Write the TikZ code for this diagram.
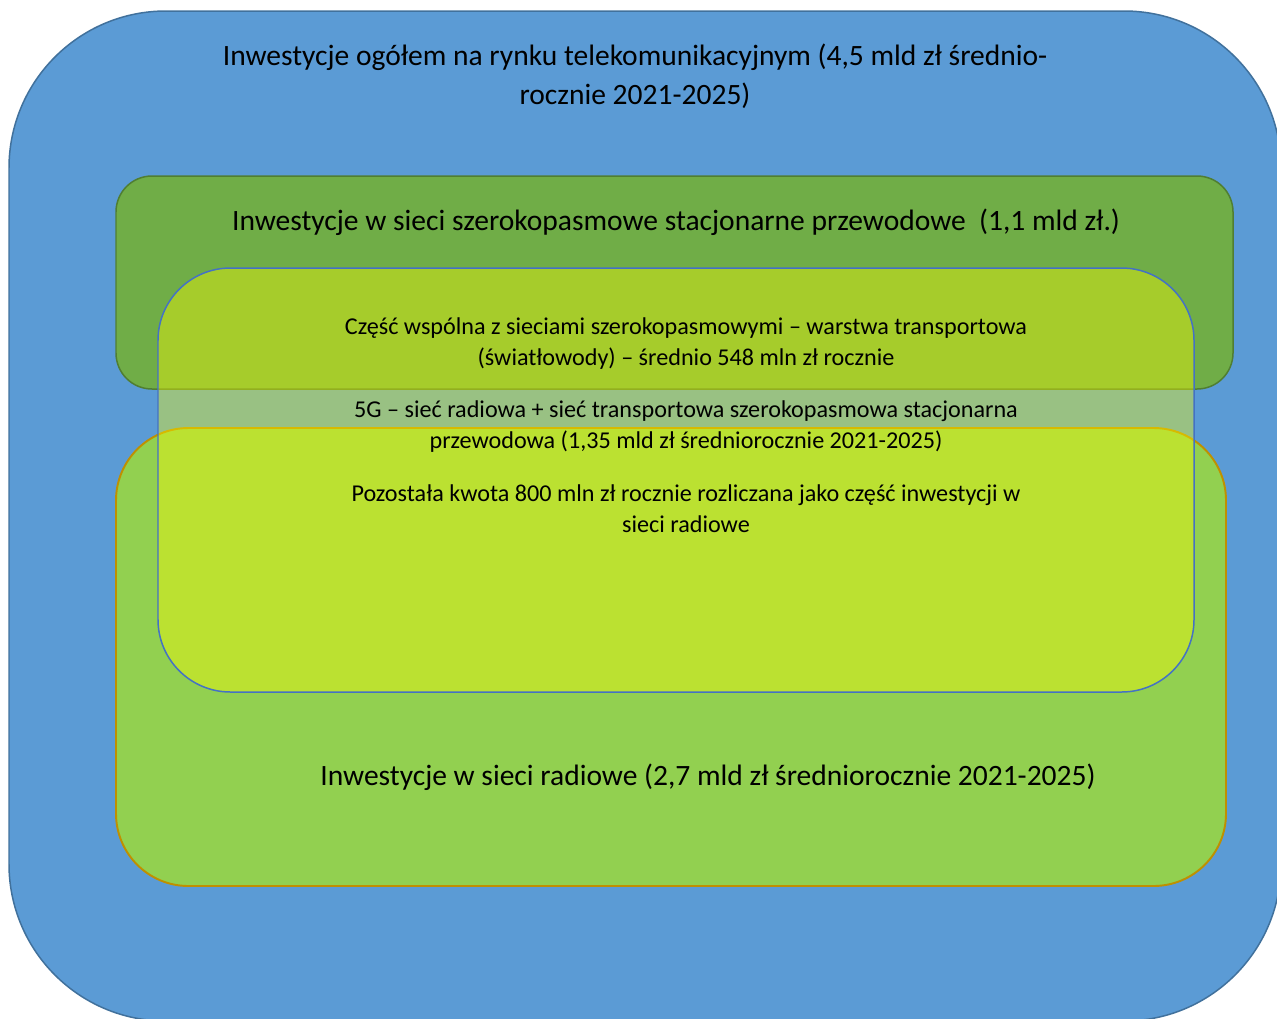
\documentclass[tikz,border=0pt]{standalone}
\usepackage{fontspec}
\setmainfont{Carlito}
\definecolor{TotalBlue}{HTML}{5B9BD5}
\definecolor{TotalEdge}{HTML}{41719C}
\definecolor{FixedGreen}{HTML}{70AD47}
\definecolor{FixedEdge}{HTML}{507E32}
\definecolor{RadioGreen}{HTML}{92D050}
\definecolor{RadioEdge}{HTML}{BF9000}
\definecolor{FiveGYellow}{HTML}{FFFF00}
\definecolor{FiveGEdge}{HTML}{4472C4}

\begin{document}
\begin{tikzpicture}[
  x=0.02cm,
  y=-0.02cm,
  set/.style={line width=0.85pt},
  total/.style={set,fill=TotalBlue,draw=TotalEdge,rounded corners=3.14cm},
  fixed/.style={set,fill=FixedGreen,draw=FixedEdge,rounded corners=0.72cm},
  radio/.style={set,fill=RadioGreen,draw=RadioEdge,line width=1.1pt,rounded corners=1.45cm},
  fiveg/.style={set,fill=FiveGYellow,fill opacity=0.38,draw=FiveGEdge,draw opacity=1,
    rounded corners=1.45cm},
  big/.style={font=\fontsize{16.8}{22.1}\selectfont,align=center,inner sep=0pt},
  small/.style={font=\fontsize{13.75}{17.3}\selectfont,align=center,inner sep=0pt}
]
  \useasboundingbox (0,0) rectangle (1277,1018);
  \clip (0,0) rectangle (1277,1018);

  % the four investment sets, outermost first
  \path[total] (9,11) rectangle (1281,1021);
  \path[fixed] (116,176) rectangle (1233,389);
  \path[radio] (116,428) rectangle (1226,886);
  \path[fiveg] (158,268) rectangle (1194,692);

  \node[big] (totalname) at (635,76)
    {Inwestycje ogółem na rynku telekomunikacyjnym (4,5 mld zł średnio-\\rocznie 2021-2025)};
  \node[big] (fixedname) at (676,222)
    {Inwestycje w sieci szerokopasmowe stacjonarne przewodowe\ \ (1,1 mld zł.)};
  \node[small] (shared) at (686,343.5)
    {Część wspólna z sieciami szerokopasmowymi – warstwa transportowa\\(światłowody) – średnio 548 mln zł rocznie};
  \node[small] (fivegname) at (686,426.5)
    {5G – sieć radiowa + sieć transportowa szerokopasmowa stacjonarna\\przewodowa (1,35 mld zł średniorocznie 2021-2025)};
  \node[small] (rest) at (686,508.5)
    {Pozostała kwota 800 mln zł rocznie rozliczana jako część inwestycji w\\sieci radiowe};
  \node[big] (radioname) at (708,777)
    {Inwestycje w sieci radiowe (2,7 mld zł średniorocznie 2021-2025)};
\end{tikzpicture}
\end{document}
